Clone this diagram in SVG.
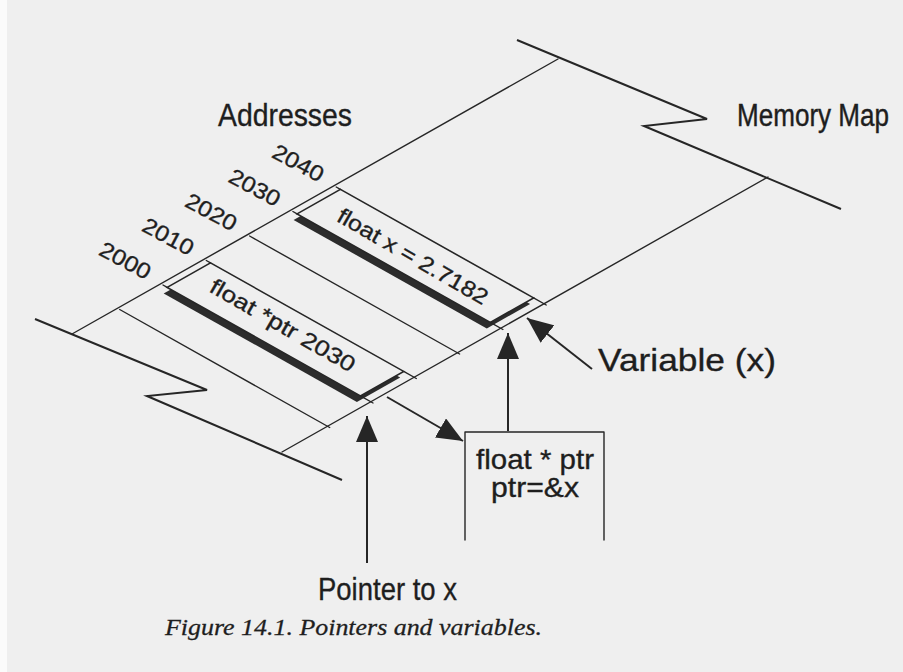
<svg xmlns="http://www.w3.org/2000/svg" width="903" height="672" viewBox="0 0 903 672">
  <defs>
    <marker id="ah" viewBox="0 0 26 22" refX="26" refY="11" markerWidth="26" markerHeight="22" markerUnits="userSpaceOnUse" orient="auto">
      <path d="M0,0 L26,11 L0,22 z" fill="#262626"/>
    </marker>
    <style>
      .ln { stroke: #262626; fill: none; stroke-width: 1.4; stroke-linecap: round; stroke-linejoin: round; }
      .zz { stroke: #262626; fill: none; stroke-width: 2; stroke-linejoin: miter; }
      .box { stroke: #262626; fill: #efefef; stroke-width: 1.6; }
      .shadow { fill: #2c2c2c; stroke: none; }
      .arr { stroke: #262626; stroke-width: 2; fill: none; marker-end: url(#ah); }
      .lbl { font-family: "Liberation Sans", Arial, sans-serif; fill: #1e1e1e; stroke: #1e1e1e; stroke-width: 0.35; }
      .cap { font-family: "Liberation Serif", "Times New Roman", serif; font-style: italic; fill: #1e1e1e; stroke: #1e1e1e; stroke-width: 0.3; }
    </style>
  </defs>
  <rect x="0" y="0" width="903" height="672" fill="#efefef"/>
  <rect x="0" y="0" width="7" height="672" fill="#fbfbfb"/>

  <g id="memory-map">
    <polyline class="zz" points="35,319 207,390 147,396 342,480"/>
    <polyline class="zz" points="517,40 707,119 644,126 841,209"/>
    <line class="ln" x1="72" y1="334" x2="558" y2="59"/>
    <line class="ln" x1="282" y1="452" x2="768" y2="177"/>
    <line class="ln" x1="119.7" y1="309.5" x2="329.7" y2="427.5"/>
    <line class="ln" x1="249.6" y1="236" x2="459.6" y2="354"/>
  </g>

  <g id="addresses">
    <text class="lbl" x="218" y="126" font-size="32" textLength="134" lengthAdjust="spacingAndGlyphs">Addresses</text>
    <text class="lbl" font-size="22" text-anchor="middle" textLength="55" lengthAdjust="spacingAndGlyphs" transform="translate(125,261) rotate(28)" y="7">2000</text>
    <text class="lbl" font-size="22" text-anchor="middle" textLength="55" lengthAdjust="spacingAndGlyphs" transform="translate(168,237) rotate(28)" y="7">2010</text>
    <text class="lbl" font-size="22" text-anchor="middle" textLength="55" lengthAdjust="spacingAndGlyphs" transform="translate(211,212.5) rotate(28)" y="7">2020</text>
    <text class="lbl" font-size="22" text-anchor="middle" textLength="55" lengthAdjust="spacingAndGlyphs" transform="translate(254.5,188) rotate(28)" y="7">2030</text>
    <text class="lbl" font-size="22" text-anchor="middle" textLength="55" lengthAdjust="spacingAndGlyphs" transform="translate(298,163.5) rotate(28)" y="7">2040</text>
  </g>

  <g id="memory-map-label">
    <text class="lbl" font-size="26" transform="translate(737,126) scale(1,1.2)" x="0" y="0" textLength="152" lengthAdjust="spacingAndGlyphs">Memory Map</text>
  </g>

  <g id="ptr-cell">
    <polygon class="shadow" points="163.7,293.4 207,268.9 400.2,377.4 356.9,401.9"/>
    <polygon class="box" points="167.2,287.4 210.5,262.9 403.7,371.4 360.4,395.9"/>
    <path class="ln" d="M163,285 L167.2,287.4 M206.3,260.5 L210.5,262.9 M360.4,395.9 L373,403 M403.7,371.4 L416.3,378.5"/>
    <text class="lbl" font-size="22" text-anchor="middle" textLength="164" lengthAdjust="spacingAndGlyphs" transform="translate(283,325) rotate(30)" y="8">float *ptr 2030</text>
  </g>

  <g id="x-cell">
    <polygon class="shadow" points="293.6,219.9 336.9,195.4 530.1,303.9 486.8,328.4"/>
    <polygon class="box" points="297.1,213.9 340.4,189.4 533.6,297.9 490.3,322.4"/>
    <path class="ln" d="M292.9,211.5 L297.1,213.9 M336.2,187 L340.4,189.4 M490.3,322.4 L502.9,329.5 M533.6,297.9 L546.2,305"/>
    <text class="lbl" font-size="22" text-anchor="middle" textLength="170" lengthAdjust="spacingAndGlyphs" transform="translate(413,256) rotate(30)" y="8">float x = 2.7182</text>
  </g>

  <g id="ptr-decl">
    <path class="ln" d="M465,540 L465,432 L604,432 L604,540" stroke-width="1.6"/>
    <text class="lbl" x="535" y="469" font-size="28" text-anchor="middle" textLength="118" lengthAdjust="spacingAndGlyphs">float * ptr</text>
    <text class="lbl" x="535" y="497" font-size="28" text-anchor="middle" textLength="88" lengthAdjust="spacingAndGlyphs">ptr=&amp;x</text>
  </g>

  <g id="variable-label">
    <text class="lbl" x="598" y="371" font-size="32" textLength="178" lengthAdjust="spacingAndGlyphs">Variable (x)</text>
  </g>

  <g id="pointer-label">
    <text class="lbl" x="318" y="600" font-size="32" textLength="139" lengthAdjust="spacingAndGlyphs">Pointer to x</text>
  </g>

  <g id="connectors">
    <line class="arr" x1="367" y1="563" x2="367" y2="416"/>
    <line class="arr" x1="508" y1="431" x2="508" y2="333"/>
    <line class="arr" x1="387" y1="397" x2="463" y2="441"/>
    <line class="arr" x1="592" y1="369" x2="527" y2="318"/>
  </g>

  <g id="caption">
    <text class="cap" x="165" y="635" font-size="24" textLength="377" lengthAdjust="spacingAndGlyphs">Figure 14.1. Pointers and variables.</text>
  </g>
</svg>
